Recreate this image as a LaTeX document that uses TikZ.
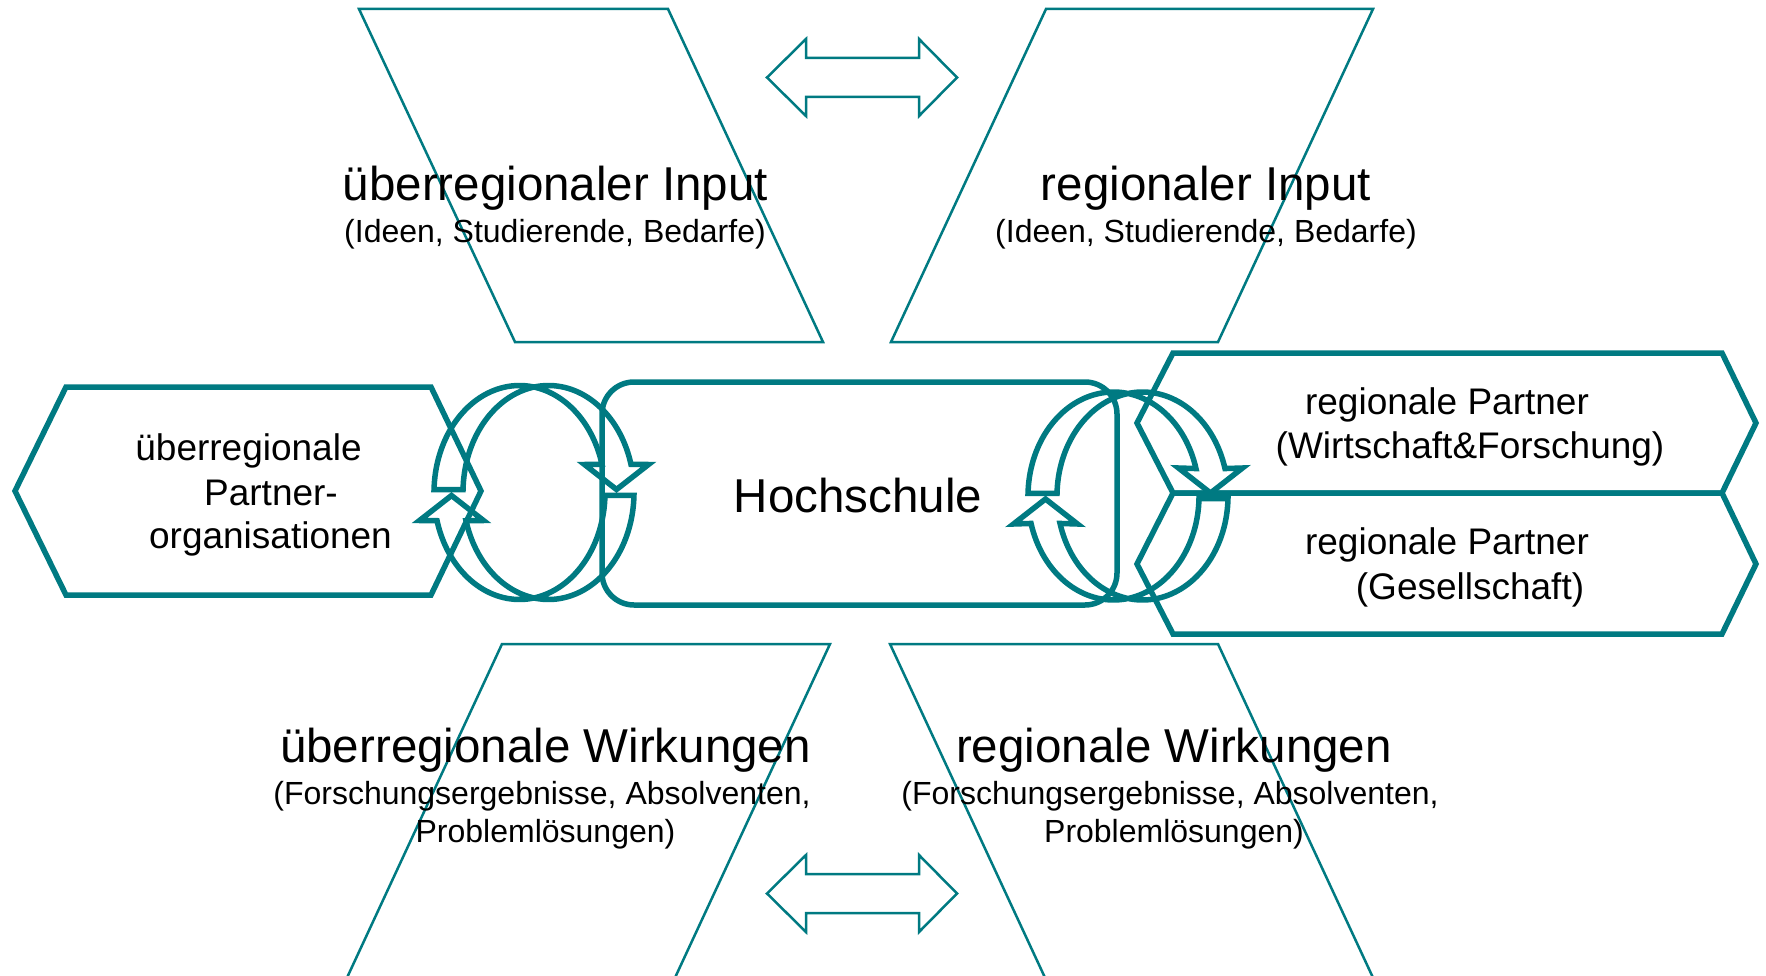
\documentclass[tikz,border=0pt]{standalone}
\usepackage{fontspec}
\setmainfont{Liberation Sans}
\definecolor{hsteal}{RGB}{0,122,130}

% two crescent-shaped arrows running clockwise round a centre
% #1 = centre x, #2 = centre y, #3 = vertical half-axis
\newcommand{\cyclepair}[3]{%
  \draw[thickline]
    plot[variable=\t, domain=181.5:344.7, samples=70]
      ({#1-14.5+85.5*cos(\t)}, {#2+#3*sin(\t)})
    -- ({#1+50.5}, {#2-28}) -- ({#1+82.5}, {#2-3}) -- ({#1+114.5}, {#2-28})
    -- plot[variable=\t, domain=344.7:181.5, samples=70]
      ({#1+14.5+85.5*cos(\t)}, {#2+#3*sin(\t)})
    -- cycle;
  \draw[thickline]
    plot[variable=\t, domain=1.5:164.7, samples=70]
      ({#1-14.5+85.5*cos(\t)}, {#2+#3*sin(\t)})
    -- ({#1-114.5}, {#2+28}) -- ({#1-82.5}, {#2+3}) -- ({#1-50.5}, {#2+28})
    -- plot[variable=\t, domain=164.7:1.5, samples=70]
      ({#1+14.5+85.5*cos(\t)}, {#2+#3*sin(\t)})
    -- cycle;
}

\begin{document}
\begin{tikzpicture}[x=1pt, y=-1pt,
  thinline/.style={draw=hsteal, line width=2.5pt},
  thickline/.style={draw=hsteal, line width=5.5pt},
  txt/.style={anchor=base, inner sep=0pt, text=black},
  bigtext/.style={txt, font=\fontsize{47.5}{57}\selectfont},
  smalltext/.style={txt, font=\fontsize{32}{38}\selectfont},
  midtext/.style={txt, font=\fontsize{37}{44}\selectfont}]

\useasboundingbox (0,0) rectangle (1766,976);
\fill[white] (0,0) rectangle (1766,976);

\begin{scope}
\clip (0,0) rectangle (1766,976);

% input and output parallelograms
\draw[thinline] (359,9) -- (668,9) -- (823,342) -- (515,342) -- cycle;
\draw[thinline] (1046,9) -- (1373,9) -- (1218,342) -- (891,342) -- cycle;
\draw[thinline] (502,644) -- (830,644) -- (673,982) -- (345,982) -- cycle;
\draw[thinline] (890,644) -- (1218,644) -- (1375,982) -- (1047,982) -- cycle;

% double-headed exchange arrows
\draw[thinline] (767,77.5) -- (806,39) -- (806,58) -- (919,58) -- (919,39)
  -- (957,77.5) -- (919,116) -- (919,97) -- (806,97) -- (806,116) -- cycle;
\draw[thinline] (767,893.5) -- (806,855) -- (806,874) -- (919,874) -- (919,855)
  -- (957,893.5) -- (919,932) -- (919,913) -- (806,913) -- (806,932) -- cycle;

% partner hexagons
\draw[thickline] (15,491) -- (66,387) -- (431,387) -- (481,491) -- (431,595) -- (66,595) -- cycle;
\draw[thickline] (1137,423) -- (1173,353) -- (1722,353) -- (1756,423) -- (1722,493) -- (1173,493) -- cycle;
\draw[thickline] (1137,564) -- (1173,493) -- (1722,493) -- (1756,564) -- (1722,634) -- (1173,634) -- cycle;

% university box
\draw[thickline, rounded corners=32pt] (602,382) rectangle (1117,605);

% exchange cycles
\cyclepair{534}{492.5}{107}
\cyclepair{1128}{496}{104}
\end{scope}

% labels
\node[bigtext]   (tin1) at (555.5,201) {überregionaler Input};
\node[smalltext] (tin2) at (555,243) {(Ideen, Studierende, Bedarfe)};
\node[bigtext]   (rin1) at (1206,201) {regionaler Input};
\node[smalltext] (rin2) at (1206,243) {(Ideen, Studierende, Bedarfe)};
\node[bigtext]   (hs)   at (858,512) {Hochschule};
\node[midtext]   (op1)  at (248.5,460) {überregionale};
\node[midtext]   (op2)  at (271,505) {Partner-};
\node[midtext]   (op3)  at (270.5,548) {organisationen};
\node[midtext]   (wf1)  at (1447,414) {regionale Partner};
\node[midtext]   (wf2)  at (1470,458) {(Wirtschaft\&Forschung)};
\node[midtext]   (gs1)  at (1447,554) {regionale Partner};
\node[midtext]   (gs2)  at (1470,599) {(Gesellschaft)};
\node[bigtext]   (tw1)  at (545.5,762) {überregionale Wirkungen};
\node[smalltext] (tw2)  at (542,804) {(Forschungsergebnisse, Absolventen,};
\node[smalltext] (tw3)  at (545.5,842) {Problemlösungen)};
\node[bigtext]   (rw1)  at (1174,762) {regionale Wirkungen};
\node[smalltext] (rw2)  at (1170,804) {(Forschungsergebnisse, Absolventen,};
\node[smalltext] (rw3)  at (1174,842) {Problemlösungen)};
\end{tikzpicture}
\end{document}
